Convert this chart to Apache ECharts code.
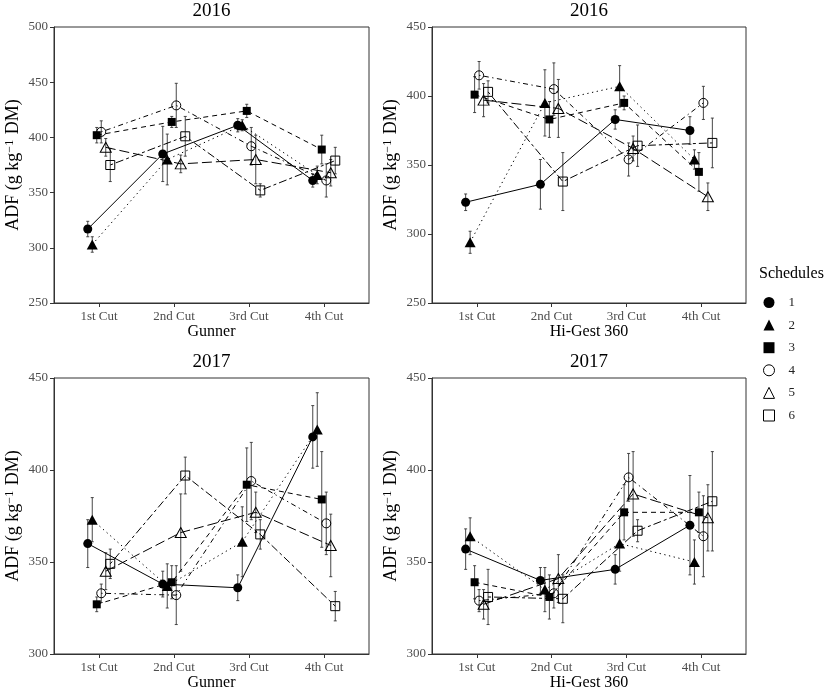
<!DOCTYPE html>
<html>
<head>
<meta charset="utf-8">
<script src="https://cdn.jsdelivr.net/npm/echarts@6/dist/echarts.min.js"></script>
<style>html,body{margin:0;padding:0;background:#fff;}#c{width:827px;height:691px;}</style>
</head>
<body>
<div id="c"></div>
<script>
// ---- data ----
const cuts = ['1st Cut', '2nd Cut', '3rd Cut', '4th Cut'];
const schedules = ['1', '2', '3', '4', '5', '6'];
const yTicks2016G = [250, 300, 350, 400, 450, 500];
const yTicks2016H = [250, 300, 350, 400, 450];
const yTicks2017 = [300, 350, 400, 450];

// means per schedule (rows) for each cut (cols)
const gunner2016 = [
  [317, 385, 411, 361],
  [303, 380, 411, 366],
  [402, 414, 424, 389],
  [405, 429, 392, 361],
  [391, 376, 380, 368],
  [375, 401, 352, 379]
];
const gunner2016Err = [
  [7, 25, 6, 6],
  [7, 23, 5, 8],
  [7, 5, 6, 13],
  [10, 20, 17, 15],
  [8, 8, 22, 12],
  [15, 18, 6, 12]
];
const hiGest2016 = [
  [323, 336, 383, 375],
  [294, 395, 407, 354],
  [401, 383, 395, 345],
  [415, 405, 354, 395],
  [397, 391, 362, 327],
  [403, 338, 364, 366]
];
const hiGest2016Err = [
  [6, 18, 7, 10],
  [8, 24, 15, 7],
  [13, 13, 5, 14],
  [10, 19, 12, 12],
  [12, 21, 9, 10],
  [8, 21, 15, 18]
];
const gunner2017 = [
  [360, 338, 336, 418],
  [373, 337, 361, 422],
  [327, 339, 392, 384],
  [333, 332, 394, 371],
  [345, 366, 377, 359],
  [349, 397, 365, 326]
];
const gunner2017Err = [
  [13, 7, 7, 17],
  [12, 12, 19, 20],
  [4, 9, 20, 26],
  [5, 16, 21, 17],
  [10, 21, 11, 17],
  [8, 10, 8, 8]
];
const hiGest2017 = [
  [357, 340, 346, 370],
  [364, 335, 360, 350],
  [339, 331, 377, 377],
  [329, 333, 396, 364],
  [327, 341, 387, 374],
  [331, 330, 367, 383]
];
const hiGest2017Err = [
  [11, 7, 8, 27],
  [10, 12, 15, 12],
  [9, 12, 15, 11],
  [6, 8, 13, 22],
  [8, 13, 23, 18],
  [15, 13, 6, 27]
];

// ---- styling ----
const FONT = "'Liberation Serif', 'Times New Roman', serif";
const dodge = [-0.15, -0.09, -0.03, 0.03, 0.09, 0.15];
const symbols = ['circle', 'triangle', 'rect', 'circle', 'triangle', 'rect'];
const symSizes = [[9, 9], [11, 10], [8, 8], [9, 9], [11, 10], [9, 9]];
const filled = [true, true, true, false, false, false];
const dashes = ['solid', [1.3, 3.5], [5, 4], [1.3, 3.5, 5, 3.5], [10, 4], [3, 3, 8, 3]];

const panels = [
  {mean: gunner2016, err: gunner2016Err, ticks: yTicks2016G, left: 54, top: 27, width: 315, xname: 'Gunner', title: '2016'},
  {mean: hiGest2016, err: hiGest2016Err, ticks: yTicks2016H, left: 432, top: 27, width: 314, xname: 'Hi-Gest 360', title: '2016'},
  {mean: gunner2017, err: gunner2017Err, ticks: yTicks2017, left: 54, top: 378, width: 315, xname: 'Gunner', title: '2017'},
  {mean: hiGest2017, err: hiGest2017Err, ticks: yTicks2017, left: 432, top: 378, width: 314, xname: 'Hi-Gest 360', title: '2017'}
];
const PH = 276;

const grids = [], xAxes = [], yAxes = [], series = [], graphics = [];
panels.forEach((p, pi) => {
  grids.push({left: p.left, top: p.top, width: p.width, height: PH, show: true,
    borderColor: '#333', borderWidth: 1, backgroundColor: 'transparent', containLabel: false, outerBoundsMode: 'none'});
  xAxes.push({type: 'value', gridIndex: pi, min: 0.4, max: 4.6,
    name: p.xname, nameLocation: 'middle', nameGap: 20,
    nameTextStyle: {fontFamily: FONT, fontSize: 16, color: '#000'},
    axisLine: {show: true, lineStyle: {color: '#333', width: 1}},
    axisTick: {show: true, length: 4, lineStyle: {color: '#333'}, customValues: [1, 2, 3, 4]},
    axisLabel: {customValues: [1, 2, 3, 4], margin: 7, fontFamily: FONT, fontSize: 13, color: '#4d4d4d',
      formatter: v => cuts[Math.round(v) - 1]},
    splitLine: {show: false}});
  const ymin = p.ticks[0], ymax = p.ticks[p.ticks.length - 1];
  yAxes.push({type: 'value', gridIndex: pi, min: ymin, max: ymax, interval: 50,
    name: 'ADF (g kg{sup|−1} DM)', nameLocation: 'middle', nameGap: 32,
    nameTextStyle: {fontFamily: FONT, fontSize: 18, color: '#000',
      rich: {sup: {fontFamily: FONT, fontSize: 12, color: '#000', verticalAlign: 'top', padding: [0, 1, 0, 0]}}},
    axisLine: {show: true, lineStyle: {color: '#333', width: 1}},
    axisTick: {show: true, length: 4, lineStyle: {color: '#333'}},
    axisLabel: {margin: 6, fontFamily: FONT, fontSize: 13, color: '#4d4d4d'},
    splitLine: {show: false}});
  graphics.push({type: 'text', x: p.left + p.width / 2, y: p.top - 16,
    style: {text: p.title, fontFamily: FONT, fontSize: 19, fill: '#000', textAlign: 'center', textVerticalAlign: 'middle'}});

  schedules.forEach((s, si) => {
    series.push({
      type: 'custom', xAxisIndex: pi, yAxisIndex: pi, z: 2, silent: true,
      encode: {x: 0, y: [1, 2]},
      data: p.mean[si].map((v, i) => [i + 1 + dodge[si], v - p.err[si][i], v + p.err[si][i]]),
      renderItem: (params, api) => {
        const x = api.value(0);
        const a = api.coord([x, api.value(1)]);
        const b = api.coord([x, api.value(2)]);
        const w = 1.5;
        const st = {stroke: '#333', lineWidth: 0.9};
        return {type: 'group', children: [
          {type: 'line', shape: {x1: a[0], y1: a[1], x2: b[0], y2: b[1]}, style: st},
          {type: 'line', shape: {x1: a[0] - w, y1: a[1], x2: a[0] + w, y2: a[1]}, style: st},
          {type: 'line', shape: {x1: b[0] - w, y1: b[1], x2: b[0] + w, y2: b[1]}, style: st}
        ]};
      }
    });
    series.push({
      name: s, type: 'line', xAxisIndex: pi, yAxisIndex: pi, z: 3,
      data: p.mean[si].map((v, i) => [i + 1 + dodge[si], v]),
      symbol: symbols[si], symbolSize: symSizes[si], showSymbol: true,
      itemStyle: filled[si] ? {color: '#000', borderColor: '#000', borderWidth: 0}
                            : {color: 'rgba(255,255,255,0)', borderColor: '#000', borderWidth: 1},
      lineStyle: {color: '#000', width: 1, type: dashes[si]},
      emphasis: {disabled: true}, silent: true
    });
  });
});

graphics.push({type: 'text', x: 759, y: 274,
  style: {text: 'Schedules', fontFamily: FONT, fontSize: 16, fill: '#000', textAlign: 'left', textVerticalAlign: 'middle'}});

const option = {
  animation: false,
  backgroundColor: '#fff',
  grid: grids, xAxis: xAxes, yAxis: yAxes, series: series,
  legend: {
    orient: 'vertical', left: 758, top: 291, itemWidth: 11, itemHeight: 11, itemGap: 9.6,
    selectedMode: false, symbolKeepAspect: true,
    textStyle: {fontFamily: FONT, fontSize: 13, color: '#222', lineHeight: 11, padding: [0, 0, 0, 9]},
    data: schedules.map((s, si) => ({name: s, icon: symbols[si],
      itemStyle: filled[si] ? {color: '#000', borderWidth: 0} : {color: 'rgba(255,255,255,0)', borderColor: '#000', borderWidth: 1}}))
  },
  graphic: graphics
};
const chart = echarts.init(document.getElementById('c'), null, {renderer: 'canvas'});
chart.setOption(option);
</script>
</body>
</html>
